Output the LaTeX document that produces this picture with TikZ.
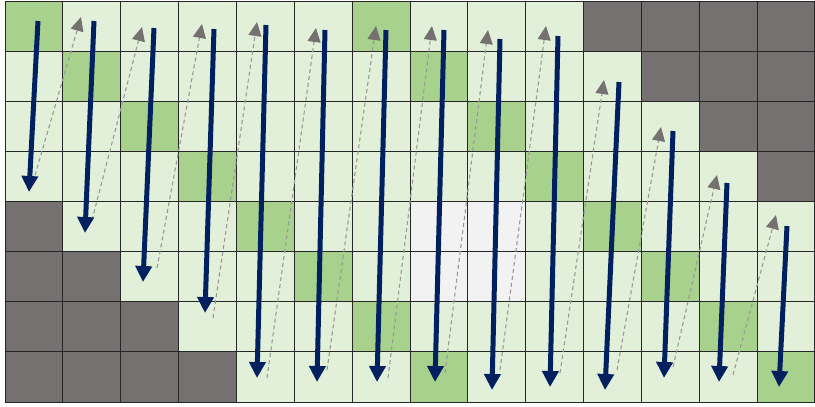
\documentclass[tikz,border=0pt]{standalone}
\usetikzlibrary{arrows.meta}
\definecolor{lg}{HTML}{E2F0D9}
\definecolor{mg}{HTML}{A9D18E}
\definecolor{dg}{HTML}{767171}
\definecolor{wc}{HTML}{F2F2F2}
\definecolor{navy}{HTML}{002060}
\definecolor{dashgrey}{HTML}{999999}
\begin{document}
\begin{tikzpicture}[x=1pt,y=-1pt,
  sweep/.style={draw=navy, line width=5pt, -{Triangle[width=16pt,length=16pt]}},
  back/.style={draw=dashgrey, line width=1.1pt, dash pattern=on 4pt off 3pt, -{Triangle[width=13pt,length=14pt,fill=dg,color=dg]}},
  cellgrid/.style={draw=black!85, line width=0.9pt}]
\useasboundingbox[fill=white] (0,0) rectangle (815,407);
\def\cw{57.85}
\def\ch{50.125}
\fill[lg] (5,1) rectangle (815,402);
% mid green diagonal cells
\foreach \c/\r in {0/0,1/1,2/2,3/3,4/4,5/5,6/6,7/7,6/0,7/1,8/2,9/3,10/4,11/5,12/6,13/7}
  \fill[mg] ({5+\c*\cw},{1+\r*\ch}) rectangle ++(\cw,\ch);
% whitish cells
\foreach \c/\r in {7/4,8/4,7/5,8/5}
  \fill[wc] ({5+\c*\cw},{1+\r*\ch}) rectangle ++(\cw,\ch);
% dark grey cells
\foreach \c/\r in {0/4,0/5,1/5,0/6,1/6,2/6,0/7,1/7,2/7,3/7,10/0,11/0,12/0,13/0,11/1,12/1,13/1,12/2,13/2,13/3}
  \fill[dg] ({5+\c*\cw},{1+\r*\ch}) rectangle ++(\cw,\ch);
% grid
\foreach \i in {0,...,14}
  \draw[cellgrid] ({5+\i*\cw},1) -- ({5+\i*\cw},402);
\foreach \j in {0,...,8}
  \draw[cellgrid] (5,{1+\j*\ch}) -- (815,{1+\j*\ch});
% blue sweep coordinates
\foreach \n/\tx/\ty/\bx/\by in {0/38/21/29/192, 1/94/21/85/233, 2/154/28/143/282, 3/214/29/205/313,
  4/266/25/257/378, 5/325/30/317/382, 6/386/30/377/382, 7/444/30/435/382, 8/500/39/492/390,
  9/558/36/550/387, 10/619/82/605/390, 11/673/131/664/378, 12/727/183/719/382, 13/787/226/779/387}{
  \coordinate (t\n) at (\tx,\ty);
  \coordinate (b\n) at (\bx,\by);
}
% dashed return coordinates
\foreach \n/\sx/\sy/\ex/\ey in {0/33/182/81/17, 1/92/220/142/27, 2/157/268/202/24, 3/213/318/257/22,
  4/267/378/316/28, 5/327/370/376/26, 6/388/378/432/26, 7/445/373/488/30, 8/500/370/546/26,
  9/560/373/604/80, 10/617/370/661/127, 11/673/367/717/175, 12/733/375/776/215}{
  \coordinate (s\n) at (\sx,\sy);
  \coordinate (e\n) at (\ex,\ey);
}
\foreach \n in {0,...,12}
  \draw[back] (s\n) -- (e\n);
\foreach \n in {0,...,13}
  \draw[sweep] (t\n) -- (b\n);
\end{tikzpicture}
\end{document}
